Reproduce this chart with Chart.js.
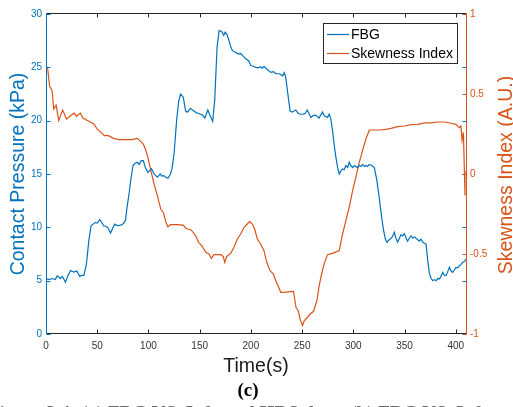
<!DOCTYPE html>
<html><head><meta charset="utf-8">
<script src="https://cdn.jsdelivr.net/npm/chart.js@4.4.1/dist/chart.umd.min.js"></script>
<style>
html,body{margin:0;padding:0;background:#fff;overflow:hidden}
#wrap{position:relative;width:513px;height:407px}
canvas{display:block}
</style></head><body>
<div id="wrap"><canvas id="c" width="513" height="407"></canvas></div>
<script>
// ---- data ----
const fbgTime = [0,1,3,6,9,11,13,14,16,19,21,24,27,30,33,35,37,39.5,41.8,44,46,48,50,52.5,54,56.4,58,60.3,63,65,67,69,71,74,76,77.6,79,81,83,85,87,89,91,93,95,97,99.5,101,103,105.5,108.7,111.5,113,115,117,119,121.5,123,125,127.5,129.5,131.4,134,136.3,138,141,143,146,148,151,153,155,158,160,162.7,164.7,167,169,170.5,172,173.5,175,176.5,178.7,180,182,185,188.5,190,192,195,198,200,202,204.8,207,209.6,211,212.8,216,219.5,222,224.5,227.8,231,232.6,234,236.5,238.3,240.5,243.8,246,248,251,253,255,258.6,261,263.5,266.6,268,269.9,271.6,274.8,276.4,278,279.7,281.5,283,284.7,286.3,288,289.5,291,292.8,294.5,296,297.5,299.3,301,302.5,304,305.8,307.5,309,311,312.3,314,315.5,318,320.5,323,324.7,326.4,328,329.6,331.3,332.9,334.5,336,338,340,341.5,343.3,345,346.5,348,349.8,351.5,353,354.7,356.3,358,360,362,364.4,366,367.7,369.5,371,372.5,374.3,376,377.5,379,380.8,382.5,384,385.7,387.3,389,390.5,392,393.8,395.5,397,398.6,400.3,402,403.5,405,406.8,408.4,410];
const fbgValue = [5.1,5.16,5.1,5.2,5.1,5.45,5.3,5.2,5.4,4.85,5.4,5.95,5.8,5.9,5.4,5.5,5.5,6.6,8.75,10.15,10.3,10.45,10.4,10.72,10.5,10.15,10.1,10.0,9.47,9.9,10.3,10.2,10.15,10.25,10.4,10.65,11.8,13.1,14.6,15.8,16.0,16.1,15.9,16.25,16.25,15.6,15.15,15.3,15.5,15.0,14.7,15.0,14.8,14.85,14.7,14.6,15.0,15.5,16.9,20.0,21.8,22.5,22.2,20.9,20.8,21.15,21.0,20.8,20.7,20.6,20.5,20.25,21.0,20.5,19.94,21.9,26.9,28.45,28.4,28.3,28.0,28.3,28.1,27.5,27.0,26.56,26.4,26.25,26.3,26.1,25.8,25.6,25.16,25.1,25.0,24.95,25.05,24.9,25.1,24.8,24.53,24.6,24.4,24.4,24.2,24.5,24.06,22.2,20.9,20.8,21.0,20.7,20.6,20.6,20.7,21.0,20.3,20.5,20.5,20.25,20.5,20.8,20.45,20.3,20.6,20.2,19.06,17.6,16.56,15.6,15.0,15.3,15.47,15.4,15.8,15.6,16.1,15.8,15.6,15.8,15.7,15.6,15.8,15.7,15.9,15.7,15.8,15.7,15.9,15.8,15.6,14.4,13.2,11.9,10.7,9.7,8.9,8.6,8.8,8.9,9.1,9.53,9.0,8.6,9.0,9.3,9.2,9.4,9.0,8.7,9.0,9.2,9.0,9.1,8.9,8.7,8.9,8.6,8.5,8.44,7.0,5.63,5.2,5.0,5.1,5.0,5.2,5.16,5.4,5.78,5.5,5.47,5.8,6.25,5.9,5.78,6.0,6.25,6.2,6.4,6.5,6.72,6.8,7.03];

const skewTime = [0.5,1.7,3.5,6,7.5,9.9,12.4,14.5,16.3,20,23.8,27.6,29.6,33.5,36,41.8,46.7,50,54.7,57,61,66,71,77.5,84,89,92.3,95,97,99.5,102,105.5,108.7,112,114.5,117,119,121.5,128,134,136.3,138,141.7,146,149,152,156,159,161.4,164,170.5,173,174.5,176.4,180.3,183.5,186.8,190,193.3,196.5,198.8,201.4,203.7,206.3,209.5,212.8,215.5,218.7,222,224.3,226.5,229.2,232.5,237.4,241.6,244,246.3,248,250.4,252,254.6,258,261.2,264.5,266.7,269,271.6,274.8,279.7,286.3,289.5,292.8,296,299.3,302.5,305.8,309,312.3,315.6,320.5,325.4,331.9,336.8,343.3,349.8,356.3,362.8,369.4,375.9,382.4,388.9,395.4,400.3,403.5,405,406.2,407.5,408.4,409];
const skewValue = [0.67,0.656,0.55,0.52,0.406,0.43,0.333,0.37,0.40,0.344,0.364,0.38,0.36,0.38,0.35,0.33,0.3125,0.28,0.254,0.24,0.24,0.223,0.215,0.215,0.215,0.223,0.204,0.1875,0.156,0.104,0.03,-0.0625,-0.135,-0.219,-0.24,-0.30,-0.33,-0.317,-0.317,-0.32,-0.3375,-0.344,-0.35,-0.385,-0.427,-0.448,-0.49,-0.50,-0.527,-0.504,-0.504,-0.515,-0.552,-0.515,-0.496,-0.458,-0.406,-0.375,-0.333,-0.3125,-0.298,-0.3125,-0.344,-0.406,-0.4375,-0.479,-0.552,-0.604,-0.625,-0.667,-0.698,-0.74,-0.74,-0.735,-0.733,-0.833,-0.854,-0.906,-0.948,-0.917,-0.90,-0.875,-0.858,-0.79,-0.698,-0.625,-0.56,-0.504,-0.496,-0.479,-0.375,-0.29,-0.208,-0.104,-0.02,0.073,0.146,0.219,0.275,0.275,0.275,0.279,0.285,0.296,0.30,0.308,0.31,0.32,0.32,0.325,0.325,0.317,0.31,0.29,0.30,0.21,0.26,0.02,-0.135];

const xTicks = [0,50,100,150,200,250,300,350,400];
const leftTicks = [0,5,10,15,20,25,30];
const rightTicks = [-1,-0.5,0,0.5,1];
const seriesNames = ['FBG','Skewness Index'];
const xTitle = 'Time(s)';
const leftTitle = 'Contact Pressure (kPa)';
const rightTitle = 'Skewness Index (A.U.)';
const panelLabel = '(c)';
const captionText = 'Figure 3.4: (a) FBG VS. Infrared HRS data; (b) FBG VS. Infrared HRS data;';

// ---- styles ----
const BLUE = '#0072BD', ORANGE = '#D95319', DARK = '#262626';
const FONT = '"Liberation Sans", Arial, Helvetica, sans-serif';

const toXY = (xs, ys) => xs.map((x, i) => ({x, y: ys[i]}));

const decor = {
  id: 'decor',
  afterDatasetsDraw(chart) {
    const {ctx, chartArea: a, scales} = chart;
    const L = Math.round(a.left) + 0.5, R = Math.round(a.right) + 0.5;
    const T = Math.round(a.top) - 0.5, B = Math.round(a.bottom) - 0.5;
    ctx.save();
    ctx.lineWidth = 1;
    // inward ticks
    const tl = 4;
    ctx.strokeStyle = DARK;
    ctx.beginPath();
    xTicks.forEach(v => {
      const px = Math.round(scales.x.getPixelForValue(v)) + 0.5;
      ctx.moveTo(px, B); ctx.lineTo(px, B - tl);
      ctx.moveTo(px, T); ctx.lineTo(px, T + tl);
    });
    ctx.stroke();
    ctx.strokeStyle = BLUE;
    ctx.beginPath();
    leftTicks.forEach(v => {
      const py = Math.round(scales.y.getPixelForValue(v)) + 0.5;
      ctx.moveTo(L, py); ctx.lineTo(L + tl, py);
      ctx.moveTo(R, py); ctx.lineTo(R - tl, py);
    });
    ctx.stroke();
    ctx.strokeStyle = ORANGE;
    ctx.beginPath();
    rightTicks.forEach(v => {
      const py = Math.round(scales.y1.getPixelForValue(v)) + 0.5;
      ctx.moveTo(R, py); ctx.lineTo(R - tl, py);
    });
    ctx.stroke();
    // axis lines
    ctx.strokeStyle = DARK;
    ctx.beginPath(); ctx.moveTo(L, T); ctx.lineTo(R, T); ctx.moveTo(L, B); ctx.lineTo(R, B); ctx.stroke();
    ctx.strokeStyle = BLUE;
    ctx.beginPath(); ctx.moveTo(L, T); ctx.lineTo(L, B); ctx.stroke();
    ctx.strokeStyle = ORANGE;
    ctx.beginPath(); ctx.moveTo(R, T); ctx.lineTo(R, B); ctx.stroke();

    // legend
    const lx = 323.5, ly = 23.5, lw = 134, lh = 40;
    ctx.fillStyle = '#fff';
    ctx.fillRect(lx, ly, lw, lh);
    ctx.strokeStyle = DARK;
    ctx.strokeRect(lx, ly, lw, lh);
    ctx.font = '14px ' + FONT;
    ctx.textBaseline = 'middle';
    ctx.textAlign = 'left';
    chart.data.datasets.forEach((ds, i) => {
      const yy = 34.5 + i * 19;
      ctx.strokeStyle = ds.borderColor;
      ctx.lineWidth = 1.2;
      ctx.beginPath(); ctx.moveTo(327, yy); ctx.lineTo(349, yy); ctx.stroke();
      ctx.fillStyle = '#000';
      ctx.fillText(ds.label, 351, yy + 0.5);
    });

    // axis titles
    const cy = (a.top + a.bottom) / 2;
    ctx.font = '19.5px ' + FONT;
    ctx.textAlign = 'center';
    ctx.textBaseline = 'alphabetic';
    ctx.fillStyle = BLUE;
    ctx.save(); ctx.translate(24, cy); ctx.rotate(-Math.PI / 2); ctx.fillText(leftTitle, 0, 0); ctx.restore();
    ctx.fillStyle = ORANGE;
    ctx.save(); ctx.translate(512, cy + 1); ctx.rotate(-Math.PI / 2); ctx.fillText(rightTitle, 0, 0); ctx.restore();
    ctx.fillStyle = '#1a1a1a';
    ctx.fillText(xTitle, (a.left + a.right) / 2, 372);
    ctx.font = 'bold 19px "Liberation Serif", "Times New Roman", serif';
    ctx.fillStyle = '#000';
    ctx.fillText(panelLabel, 248, 396);
    ctx.fillStyle = '#666';
    ctx.textAlign = 'left';
    ctx.fillText(captionText, -12, 419);
    ctx.restore();
  }
};

new Chart(document.getElementById('c'), {
  type: 'line',
  data: {
    datasets: [
      {label: seriesNames[0], data: toXY(fbgTime, fbgValue), yAxisID: 'y', borderColor: BLUE, borderWidth: 1.2, pointRadius: 0, tension: 0, fill: false},
      {label: seriesNames[1], data: toXY(skewTime, skewValue), yAxisID: 'y1', borderColor: ORANGE, borderWidth: 1.2, pointRadius: 0, tension: 0, fill: false}
    ]
  },
  options: {
    responsive: false,
    animation: false,
    devicePixelRatio: 1,
    parsing: true,
    layout: {padding: {top: 14, left: 0, right: 0, bottom: 0}},
    plugins: {legend: {display: false}, tooltip: {enabled: false}},
    scales: {
      x: {
        type: 'linear', position: 'bottom', min: 0, max: 410,
        afterFit: s => { s.height = 73; },
        afterBuildTicks: s => { s.ticks = xTicks.map(v => ({value: v})); },
        grid: {display: false, drawTicks: false},
        border: {display: false},
        ticks: {color: '#333', font: {family: FONT, size: 10}, padding: 6, maxRotation: 0, autoSkip: false}
      },
      y: {
        type: 'linear', position: 'left', min: 0, max: 30,
        afterFit: s => { s.width = 46; },
        afterBuildTicks: s => { s.ticks = leftTicks.map(v => ({value: v})); },
        grid: {display: false, drawTicks: false},
        border: {display: false},
        ticks: {color: BLUE, font: {family: FONT, size: 10}, padding: 4, autoSkip: false}
      },
      y1: {
        type: 'linear', position: 'right', min: -1, max: 1,
        afterFit: s => { s.width = 47; },
        afterBuildTicks: s => { s.ticks = rightTicks.map(v => ({value: v})); },
        grid: {display: false, drawTicks: false},
        border: {display: false},
        ticks: {color: ORANGE, font: {family: FONT, size: 10}, padding: 4, autoSkip: false, callback: v => String(v)}
      }
    }
  },
  plugins: [decor]
});
</script>
</body></html>
